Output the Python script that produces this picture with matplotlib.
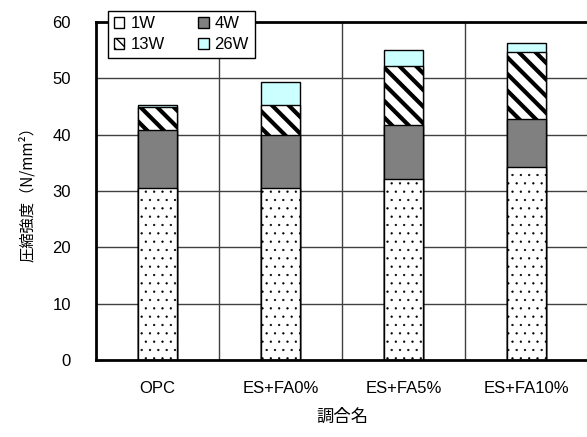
import matplotlib
matplotlib.use('Agg')
import matplotlib.pyplot as plt
import numpy as np

# 調合ごとの材齢別圧縮強度 (N/mm2)
mixes = ['OPC', 'ES+FA0%', 'ES+FA5%', 'ES+FA10%']
ages = ['1W', '4W', '13W', '26W']
s_1w = [30.6, 30.6, 32.1, 34.2]
s_4w = [40.9, 40.0, 41.7, 42.7]
s_13w = [44.9, 45.3, 52.2, 54.6]
s_26w = [45.3, 49.3, 55.1, 56.2]

yticks = [0, 10, 20, 30, 40, 50, 60]

sans = ['Liberation Sans', 'DejaVu Sans']
cjk = ['Noto Sans CJK JP', 'DejaVu Sans']

fig = plt.figure(figsize=(5.87, 4.37), dpi=100)
ax = fig.add_axes([96 / 587, 1 - 360 / 437, 492 / 587, 338 / 437])

x = np.arange(len(mixes)) + 0.5
w = 0.32

styles = {
    '26W': dict(color='#ccffff', hatch=None, hlw=1.0),
    '13W': dict(color='white', hatch='\\\\', hlw=3.0),
    '4W': dict(color='#808080', hatch=None, hlw=1.0),
    '1W': dict(color='white', hatch='..', hlw=0.4),
}
values = {'1W': s_1w, '4W': s_4w, '13W': s_13w, '26W': s_26w}

# 材齢の長い順に重ねて描く
for z, age in enumerate(['26W', '13W', '4W', '1W']):
    st = styles[age]
    with plt.rc_context({'hatch.linewidth': st['hlw'], 'hatch.color': 'black'}):
        ax.bar(x, values[age], width=w, color=st['color'], edgecolor='black',
               linewidth=1.0, hatch=st['hatch'], zorder=3 + z, label=age)

ax.set_xlim(0, 4)
ax.set_ylim(0, 60)
ax.set_yticks(yticks)
ax.set_xticks(x)
ax.set_xticklabels(mixes, family=sans, fontsize=12)
for lb in ax.get_yticklabels():
    lb.set_family(sans)
    lb.set_fontsize(12)
ax.tick_params(axis='y', length=0, pad=18)
ax.tick_params(axis='x', length=0, pad=15)

# 区切りの縦線と横のグリッド
for xv in [1, 2, 3]:
    ax.axvline(xv, color='#404040', linewidth=1.0, zorder=1)
for yv in yticks[1:-1]:
    ax.axhline(yv, color='#404040', linewidth=1.0, zorder=1)

for sp in ax.spines.values():
    sp.set_linewidth(2.0)
    sp.set_color('black')
    sp.set_zorder(10)

ax.set_ylabel('圧縮強度（N/mm²）', family=cjk, fontsize=11, labelpad=12)
ax.set_xlabel('調合名', family=cjk, fontsize=12.5, labelpad=9)

# 凡例用のハンドル (凡例の1Wは白抜き)
with plt.rc_context({'hatch.linewidth': 2.0}):
    h1 = plt.Rectangle((0, 0), 1, 1, facecolor='white', edgecolor='black', linewidth=1.0)
    h4 = plt.Rectangle((0, 0), 1, 1, facecolor='#808080', edgecolor='black', linewidth=1.0)
    h13 = plt.Rectangle((0, 0), 1, 1, facecolor='white', edgecolor='black', linewidth=1.0,
                        hatch='\\\\\\')
    h26 = plt.Rectangle((0, 0), 1, 1, facecolor='#ccffff', edgecolor='black', linewidth=1.0)

order = ['1W', '13W', '4W', '26W']
leg = ax.legend([h1, h13, h4, h26], order, ncol=2, loc='upper left',
                bbox_to_anchor=(0.024, 1.034), borderaxespad=0, fancybox=False,
                framealpha=1, edgecolor='black', prop={'family': sans, 'size': 12},
                handlelength=0.65, handleheight=0.65, handletextpad=0.35,
                columnspacing=2.0, borderpad=0.35, labelspacing=0.35)
leg.get_frame().set_linewidth(1.0)
leg.set_zorder(20)

fig.savefig('out.png', dpi=100)
